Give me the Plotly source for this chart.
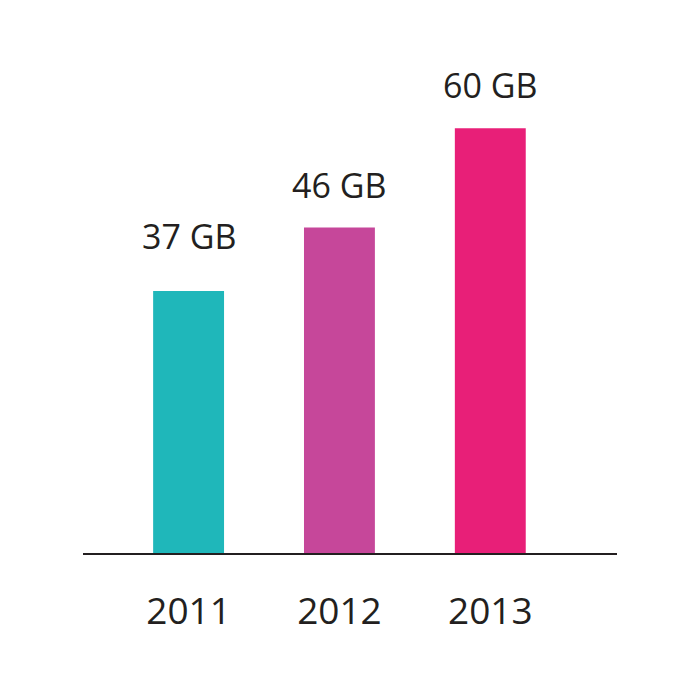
import plotly.graph_objects as go

years = ["2011", "2012", "2013"]
values = [37, 46, 60]
labels = ["37 GB", "46 GB", "60 GB"]
colors = ["#1FB7BA", "#C6479A", "#E81F78"]

FONT = "Open Sans, Arial, sans-serif"
TXT = "#231F20"

fig = go.Figure()
fig.add_trace(go.Bar(
    x=list(range(len(years))), y=values, width=0.47,
    marker=dict(color=colors, line=dict(width=0)),
    hoverinfo="skip",
))

gaps = [30, 17, 18]
for i, (v, lab) in enumerate(zip(values, labels)):
    fig.add_annotation(x=i, y=v, text=lab, showarrow=False, yanchor="bottom",
                       yshift=gaps[i], font=dict(family=FONT, size=34, color=TXT))

fig.update_layout(
    width=700, height=700,
    margin=dict(l=75, r=91, t=12, b=155),
    paper_bgcolor="white", plot_bgcolor="white",
    showlegend=False,
    xaxis=dict(range=[-0.70, 2.84], tickmode="array", tickvals=list(range(len(years))),
               ticktext=years, showline=True, linecolor=TXT, linewidth=2,
               showgrid=False, zeroline=False, ticks="", ticklabelstandoff=25,
               tickfont=dict(family=FONT, size=37, color=TXT)),
    yaxis=dict(range=[0, 75.3], visible=False, showgrid=False, zeroline=False),
)

fig.write_html("out.html")
